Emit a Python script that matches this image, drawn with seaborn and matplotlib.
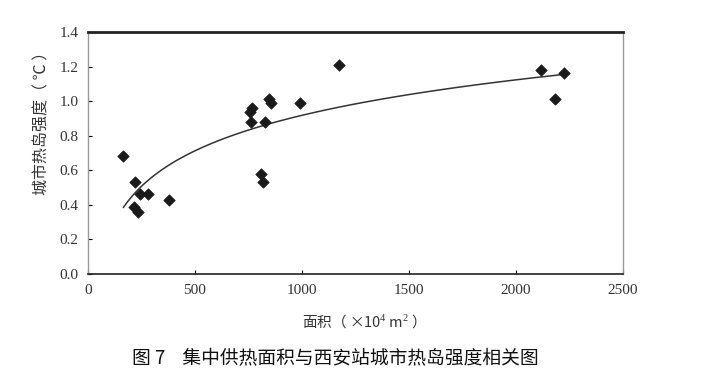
import matplotlib
matplotlib.use("Agg")
import matplotlib.pyplot as plt
import seaborn as sns
import pandas as pd

# data
area = [165, 220, 245, 280, 215, 235, 380, 755, 765, 760, 825, 845, 855, 990,
        810, 820, 1175, 2115, 2225, 2180]
uhi = [0.68, 0.53, 0.46, 0.46, 0.39, 0.36, 0.43, 0.94, 0.96, 0.88, 0.88, 1.01,
       0.99, 0.99, 0.58, 0.53, 1.21, 1.18, 1.16, 1.01]
xticks = [0, 500, 1000, 1500, 2000, 2500]
yticks = [0.0, 0.2, 0.4, 0.6, 0.8, 1.0, 1.2, 1.4]

df = pd.DataFrame({"area": area, "uhi": uhi})

sns.set_theme(style="white")
plt.rcParams['font.family'] = ['Liberation Serif', 'Noto Sans CJK SC', 'DejaVu Sans']
plt.rcParams['mathtext.fontset'] = 'custom'
plt.rcParams['mathtext.rm'] = 'Liberation Serif'

fig = plt.figure(figsize=(7.02, 3.87), dpi=100)
ax = fig.add_axes([88/702, 1-274/387, (623-88)/702, (274-32)/387])

sns.regplot(data=df, x="area", y="uhi", logx=True, ci=None, ax=ax, marker="D",
            scatter_kws=dict(s=34, color="#1a1a1a", edgecolor="#1a1a1a",
                             linewidths=0.5, alpha=1, zorder=3),
            line_kws=dict(color="#333333", lw=1.1, zorder=2))

ax.set_xlim(0, 2500)
ax.set_ylim(0, 1.4)
ax.set_xticks(xticks)
ax.set_yticks(yticks)
ax.set_xticklabels([str(v) for v in xticks], fontsize=11, family='Liberation Serif', color='#333333')
ax.set_yticklabels([f"{v:.1f}" for v in yticks], fontsize=11, family='Liberation Serif', color='#333333')
ax.tick_params(axis='y', direction='in', length=3, width=0.8, color='black', left=True, pad=7)
ax.tick_params(axis='x', direction='in', length=3, width=0.8, color='black', bottom=True, pad=7)
ax.set_xlabel("")
ax.set_ylabel("")

for side in ['left', 'right']:
    ax.spines[side].set_color('#999999')
    ax.spines[side].set_linewidth(1.0)
ax.spines['top'].set_color('#222222')
ax.spines['top'].set_linewidth(2.0)
ax.spines['bottom'].set_color('#222222')
ax.spines['bottom'].set_linewidth(1.2)

fig.text(42/702, 1-119/387, "城市热岛强度（ ℃ ）", rotation=90, ha='center', va='center',
         fontsize=11.5, family=['Noto Sans CJK SC', 'DejaVu Sans'], color='#333333')
fig.text(360/702, 1-322/387, "面积（ ×10$^4$ m$^2$ ）", ha='center', va='center',
         fontsize=10.5, family=['Noto Sans CJK SC', 'DejaVu Sans'], color='#333333')
fig.text(335/702, 1-358/387, "图 7    集中供热面积与西安站城市热岛强度相关图", ha='center', va='center',
         fontsize=13.5, family=['Noto Sans CJK SC', 'DejaVu Sans'], color='#111111')

fig.savefig("out.png", dpi=100)
